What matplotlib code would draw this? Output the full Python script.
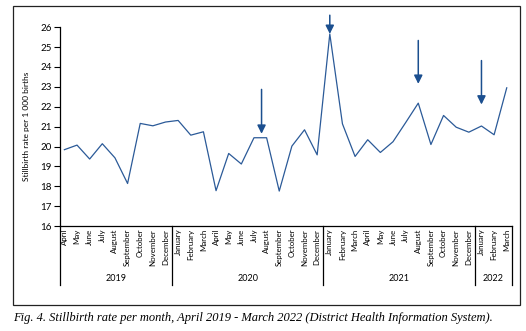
import numpy as np
import matplotlib.pyplot as plt
from matplotlib.patches import Rectangle
import matplotlib.transforms as mtransforms

months = ['April', 'May', 'June', 'July', 'August', 'September', 'October', 'November', 'December',
          'January', 'February', 'March', 'April', 'May', 'June', 'July', 'August', 'September',
          'October', 'November', 'December',
          'January', 'February', 'March', 'April', 'May', 'June', 'July', 'August', 'September',
          'October', 'November', 'December',
          'January', 'February', 'March']
rate = [19.84, 20.07, 19.37, 20.14, 19.43, 18.14, 21.16, 21.04, 21.23,
        21.31, 20.57, 20.74, 17.78, 19.65, 19.12, 20.44, 20.44, 17.76, 20.02, 20.84, 19.58,
        25.66, 21.14, 19.50, 20.34, 19.70, 20.24, 21.20, 22.18, 20.10, 21.56, 20.97, 20.72,
        21.03, 20.59, 22.95]
years = ['2019', '2020', '2021', '2022']

# arrows: (month index, tail value, head value)
arrow_x = [15.6, 21, 28, 33]
arrow_top = [22.87, 26.6, 25.33, 24.32]
arrow_tip = [20.64, 25.66, 23.15, 22.11]

line_col = '#2b5a98'
arrow_col = '#1b4f8f'

plt.rcParams['font.family'] = ['Lato', 'DejaVu Sans']

fig = plt.figure(figsize=(5.26, 3.31), dpi=100)
ax = fig.add_axes([0.114, 0.317, 0.859, 0.601])

x = np.arange(len(rate))
ax.plot(x, rate, color=line_col, lw=0.9)

for xa, top, tip in zip(arrow_x, arrow_top, arrow_tip):
    ax.annotate('', xy=(xa, tip), xytext=(xa, top), annotation_clip=False,
                arrowprops=dict(arrowstyle='-|>,head_length=0.5,head_width=0.25',
                                color=arrow_col, lw=1.1, shrinkA=0, shrinkB=0))

xmin, xmax = -0.35, 35.4
ax.set_xlim(xmin, xmax)
ax.set_ylim(16, 26)
ax.set_yticks(range(16, 27))
ax.tick_params(axis='y', labelsize=7, length=4, width=0.8, pad=2)
ax.set_xticks(x)
ax.set_xticklabels(months, rotation=90, fontsize=5.7, va='top')
ax.tick_params(axis='x', length=0, pad=2)
ax.spines['top'].set_visible(False)
ax.spines['right'].set_visible(False)
ax.spines['left'].set_linewidth(0.9)
ax.spines['bottom'].set_linewidth(0.9)
ax.set_ylabel('Stillbirth rate per 1 000 births', fontsize=6.0, labelpad=7)

# year separators and labels below the axis
trans = mtransforms.blended_transform_factory(ax.transData, ax.transAxes)
bounds = [xmin, 8.5, 20.5, 32.5, xmax]
for sx in bounds:
    ax.plot([sx, sx], [0, -0.296], color='black', lw=0.9, transform=trans, clip_on=False)
for i, yr in enumerate(years):
    ax.text((bounds[i] + bounds[i + 1]) / 2, -0.265, yr, transform=trans,
            ha='center', va='center', fontsize=6.5)

# outer frame and caption
fig.patches.append(Rectangle((0.0247, 0.0785), 0.9639, 0.9035, transform=fig.transFigure,
                             fill=False, edgecolor='#222222', lw=0.9))
fig.text(0.0247, 0.04, 'Fig. 4. Stillbirth rate per month, April 2019 - March 2022 (District Health Information System).',
         family='Liberation Serif', style='italic', fontsize=9.0, ha='left', va='center')

fig.savefig('out.png', dpi=100)
